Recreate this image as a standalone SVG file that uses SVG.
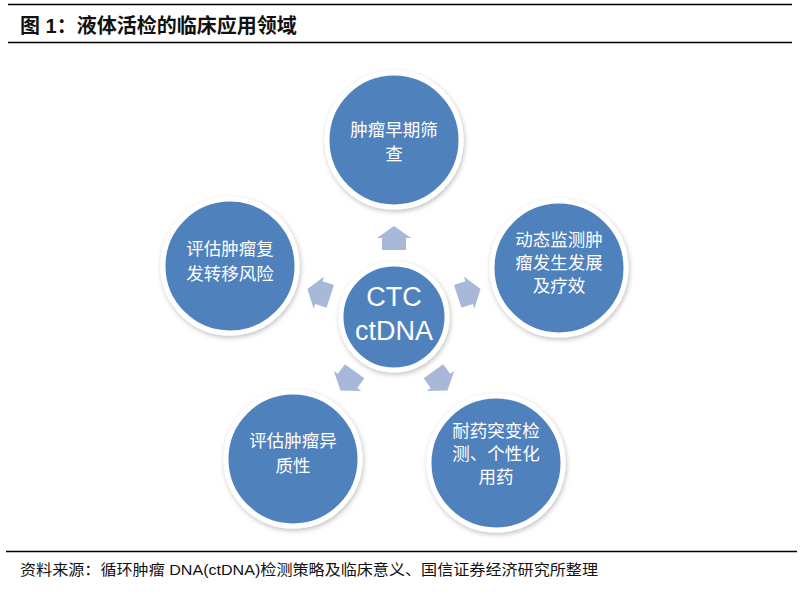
<svg xmlns="http://www.w3.org/2000/svg" width="812" height="592" viewBox="0 0 812 592">
<style>
.rule{stroke:#000;stroke-width:1.3}
.title{font-family:"Liberation Sans","Noto Sans CJK SC",sans-serif;font-size:20px;font-weight:bold;fill:#111}
.foot{font-family:"Liberation Sans Narrow","Liberation Sans","Noto Sans CJK SC",sans-serif;font-size:15px;fill:#111}
.node circle{fill:#4f81bd;stroke:#fff;stroke-width:5;filter:url(#sh)}
.lbl{font-family:"Noto Sans CJK SC",sans-serif;font-size:17.5px;fill:#fff;text-anchor:middle}
.big{font-family:"Liberation Sans",Arial,sans-serif;font-size:27px;fill:#fff;text-anchor:middle}
.arr{fill:#a7b8d9}
</style>
<defs>
<filter id="sh" x="-20%" y="-20%" width="140%" height="140%">
<feDropShadow dx="1" dy="2" stdDeviation="2.5" flood-color="#000" flood-opacity="0.25"/>
</filter>
<path id="arrow" d="M0,-12 L17,0 L12,0 L12,12 L-12,12 L-12,0 L-17,0 Z"/>
</defs>
<rect width="812" height="592" fill="#fff"/>
<line class="rule" x1="8" y1="4.5" x2="792" y2="4.5"/>
<text class="title" x="20" y="33">图 1：液体活检的临床应用领域</text>
<line class="rule" x1="8" y1="42.5" x2="792" y2="42.5"/>

<g id="connectors" class="arr">
<use href="#arrow" x="394" y="238"/>
<use href="#arrow" x="394" y="238" transform="rotate(72 394 317)"/>
<use href="#arrow" x="394" y="238" transform="rotate(144 394 317)"/>
<use href="#arrow" x="394" y="238" transform="rotate(216 394 317)"/>
<use href="#arrow" x="394" y="238" transform="rotate(288 394 317)"/>
</g>

<g id="center" class="node">
<circle cx="394" cy="317" r="53"/>
<text class="big" x="394" y="306">CTC</text>
<text class="big" x="394" y="340">ctDNA</text>
</g>

<g id="n-top" class="node">
<circle cx="394" cy="140" r="67"/>
<text class="lbl" x="394" y="136">肿瘤早期筛</text>
<text class="lbl" x="394" y="160">查</text>
</g>

<g id="n-right" class="node">
<circle cx="559" cy="268" r="67"/>
<text class="lbl" x="559" y="246">动态监测肿</text>
<text class="lbl" x="559" y="269">瘤发生发展</text>
<text class="lbl" x="559" y="292">及疗效</text>
</g>

<g id="n-left" class="node">
<circle cx="230" cy="266" r="67"/>
<text class="lbl" x="230" y="255">评估肿瘤复</text>
<text class="lbl" x="230" y="280">发转移风险</text>
</g>

<g id="n-bl" class="node">
<circle cx="293" cy="459" r="67"/>
<text class="lbl" x="293" y="447">评估肿瘤异</text>
<text class="lbl" x="293" y="472">质性</text>
</g>

<g id="n-br" class="node">
<circle cx="496" cy="463" r="67"/>
<text class="lbl" x="496" y="437">耐药突变检</text>
<text class="lbl" x="496" y="460">测、个性化</text>
<text class="lbl" x="496" y="483">用药</text>
</g>

<line class="rule" x1="6" y1="551.5" x2="797" y2="551.5"/>
<text class="foot" x="20" y="575" textLength="578" lengthAdjust="spacingAndGlyphs">资料来源：循环肿瘤 DNA(ctDNA)检测策略及临床意义、国信证券经济研究所整理</text>
</svg>
